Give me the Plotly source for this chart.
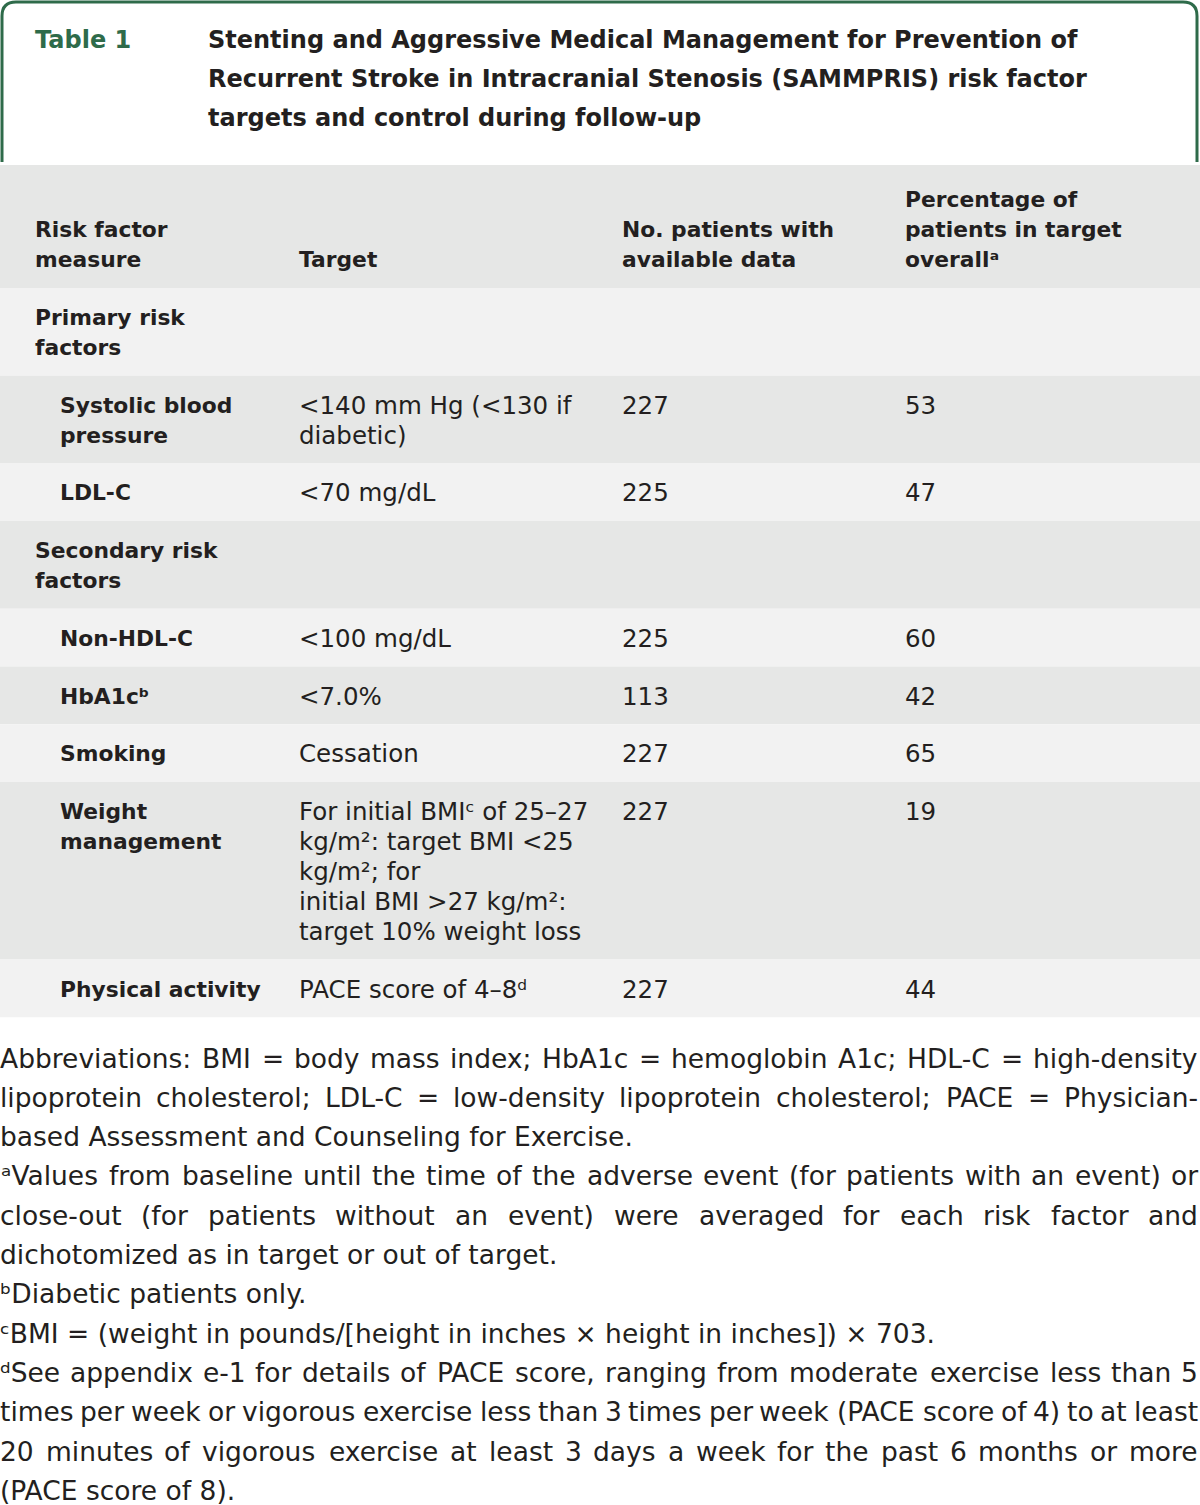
import re
import plotly.graph_objects as go

W, H = 1200, 1505
FONT = "DejaVu Sans"
INK = "#231f20"
GREEN = "#2e6b4a"
HEAD_BG = "#e6e7e6"
ROW_BG = ["#f2f2f2", "#e6e7e6"]

# ---- content -------------------------------------------------------------
table_label = "Table 1"
title_lines = [
    "Stenting and Aggressive Medical Management for Prevention of",
    "Recurrent Stroke in Intracranial Stenosis (SAMMPRIS) risk factor",
    "targets and control during follow-up",
]

header_cells = [
    "Risk factor<br>measure",
    "Target",
    "No. patients with<br>available data",
    "Percentage of<br>patients in target<br>overallᵃ",
]

measures = [
    "Primary risk<br>factors",
    "Systolic blood<br>pressure",
    "LDL-C",
    "Secondary risk<br>factors",
    "Non-HDL-C",
    "HbA1cᵇ",
    "Smoking",
    "Weight<br>management",
    "Physical activity",
]
is_group = [True, False, False, True, False, False, False, False, False]
targets = [
    "",
    "&lt;140 mm Hg (&lt;130 if<br>diabetic)",
    "&lt;70 mg/dL",
    "",
    "&lt;100 mg/dL",
    "&lt;7.0%",
    "Cessation",
    "For initial BMIᶜ of 25–27<br>kg/m²: target BMI &lt;25<br>"
    "kg/m²; for<br>initial BMI &gt;27 kg/m²:<br>target 10% weight loss",
    "PACE score of 4–8ᵈ",
]
n_patients = [None, 227, 225, None, 225, 113, 227, 227, 227]
pct_in_target = [None, 53, 47, None, 60, 42, 65, 19, 44]

footnote_lines = [
    "Abbreviations: BMI = body mass index; HbA1c = hemoglobin A1c; HDL-C = high-density",
    "lipoprotein cholesterol; LDL-C = low-density lipoprotein cholesterol; PACE = Physician-",
    "based Assessment and Counseling for Exercise.",
    "ᵃValues from baseline until the time of the adverse event (for patients with an event) or",
    "close-out (for patients without an event) were averaged for each risk factor and",
    "dichotomized as in target or out of target.",
    "ᵇDiabetic patients only.",
    "ᶜBMI = (weight in pounds/[height in inches × height in inches]) × 703.",
    "ᵈSee appendix e-1 for details of PACE score, ranging from moderate exercise less than 5",
    "times per week or vigorous exercise less than 3 times per week (PACE score of 4) to at least",
    "20 minutes of vigorous exercise at least 3 days a week for the past 6 months or more",
    "(PACE score of 8).",
]
justified = [True, True, False, True, True, False, False, False, True, True, True, False]

# ---- DejaVu Sans advance widths (per 1000 em), for justifying footnotes ----
ADV = {" ": 318, "a": 613, "b": 635, "c": 550, "d": 635, "e": 615, "f": 352, "g": 635,
       "h": 634, "i": 278, "j": 278, "k": 579, "l": 278, "m": 974, "n": 634, "o": 612,
       "p": 635, "q": 635, "r": 411, "s": 521, "t": 392, "u": 634, "v": 592, "w": 818,
       "x": 592, "y": 592, "z": 525, "A": 684, "B": 686, "C": 698, "D": 770, "E": 632,
       "F": 575, "G": 775, "H": 752, "I": 295, "J": 295, "K": 656, "L": 557, "M": 863,
       "N": 748, "O": 787, "P": 603, "Q": 787, "R": 695, "S": 635, "T": 611, "U": 732,
       "V": 684, "W": 989, "X": 685, "Y": 611, "Z": 685, ".": 318, ",": 318, ":": 337,
       ";": 337, "-": 361, "(": 390, ")": 390, "[": 390, "]": 390, "/": 337, "=": 838,
       "×": 838, "<": 838, ">": 838, "%": 950, "ᵃ": 386, "ᵇ": 400, "ᶜ": 347, "ᵈ": 400}


def text_width(s, size):
    w = sum(ADV.get(ch, 636 if ch.isdigit() else 600) for ch in s)
    return w * size / 1000


# ---- layout constants ----------------------------------------------------
TITLE_SIZE = 24
CELL_SIZE = 24.5
BOLD_SIZE = 21.8
NOTE_SIZE = 26.5
LINE = 30
COL_X = [35, 299, 622, 905]
INDENT_X = 60
TABLE_TOP = 165
HEADER_H = 123
ROW_PAD = 27.7
FIRST_LINE = 29.5
NOTE_Y0 = 1058
NOTE_STEP = 39.3
RIGHT = 1198

fig = go.Figure()
shapes = []
annotations = []


def add_text(x, y, text, size, bold=False, color=INK, anchor="left"):
    annotations.append(dict(
        x=x, y=y, xref="x", yref="y", text=text, showarrow=False,
        xanchor=anchor, yanchor="middle", xshift=-2 if anchor == "left" else 0,
        font=dict(family=FONT, size=size, color=color, weight=700 if bold else 400),
    ))


def add_cell(x, top, text, size, bold=False, valign_lines=None):
    lines = text.split("<br>")
    offset = 0 if valign_lines is None else valign_lines - len(lines)
    for i, ln in enumerate(lines):
        add_text(x, top + FIRST_LINE + 5 + LINE * (i + offset), ln, size, bold)


# title box
shapes.append(dict(
    type="path", xref="x", yref="y",
    path="M 2,162 L 2,16 Q 2,2 16,2 L 1183,2 Q 1197,2 1197,16 L 1197,162",
    line=dict(color=GREEN, width=3),
))
add_text(35, 40, table_label, TITLE_SIZE, bold=True, color=GREEN)
for i, ln in enumerate(title_lines):
    add_text(208, 40 + 39 * i, ln, TITLE_SIZE, bold=True)

# header
shapes.append(dict(type="rect", xref="x", yref="y", x0=0, x1=W, y0=TABLE_TOP,
                   y1=TABLE_TOP + HEADER_H, fillcolor=HEAD_BG, line_width=0, layer="below"))
for c, txt in enumerate(header_cells):
    add_cell(COL_X[c], TABLE_TOP, txt, BOLD_SIZE, bold=True, valign_lines=3)

# body rows
top = TABLE_TOP + HEADER_H
for r in range(len(measures)):
    cells = [measures[r], targets[r],
             "" if n_patients[r] is None else str(n_patients[r]),
             "" if pct_in_target[r] is None else str(pct_in_target[r])]
    nlines = max(len(t.split("<br>")) for t in cells)
    h = LINE * nlines + ROW_PAD
    shapes.append(dict(type="rect", xref="x", yref="y", x0=0, x1=W, y0=top, y1=top + h,
                       fillcolor=ROW_BG[r % 2], line_width=0, layer="below"))
    add_cell(COL_X[0] if is_group[r] else INDENT_X, top - 5, measures[r], BOLD_SIZE, bold=True)
    for c in range(1, 4):
        if cells[c]:
            add_cell(COL_X[c], top - 5, cells[c], CELL_SIZE)
    top += h

# footnotes (justified lines are laid out word by word)
for i, ln in enumerate(footnote_lines):
    y = NOTE_Y0 + NOTE_STEP * i
    if not justified[i]:
        add_text(0, y, ln, NOTE_SIZE)
        continue
    words = ln.split(" ")
    widths = [text_width(wd, NOTE_SIZE) for wd in words]
    gap = (RIGHT - sum(widths)) / (len(words) - 1)
    x = 0.0
    for wd, wdw in zip(words, widths):
        add_text(x + wdw / 2, y, wd, NOTE_SIZE, anchor="center")
        x += wdw + gap

fig.update_layout(
    width=W, height=H,
    margin=dict(l=0, r=0, t=0, b=0),
    paper_bgcolor="white", plot_bgcolor="white",
    xaxis=dict(range=[0, W], visible=False, fixedrange=True),
    yaxis=dict(range=[H, 0], visible=False, fixedrange=True),
    shapes=shapes, annotations=annotations, showlegend=False,
)
# drop the page's default body margin so the figure sits at the window's corner
fig.write_html("out.html", config={"displayModeBar": False},
               post_script="document.body.style.margin='0';")
